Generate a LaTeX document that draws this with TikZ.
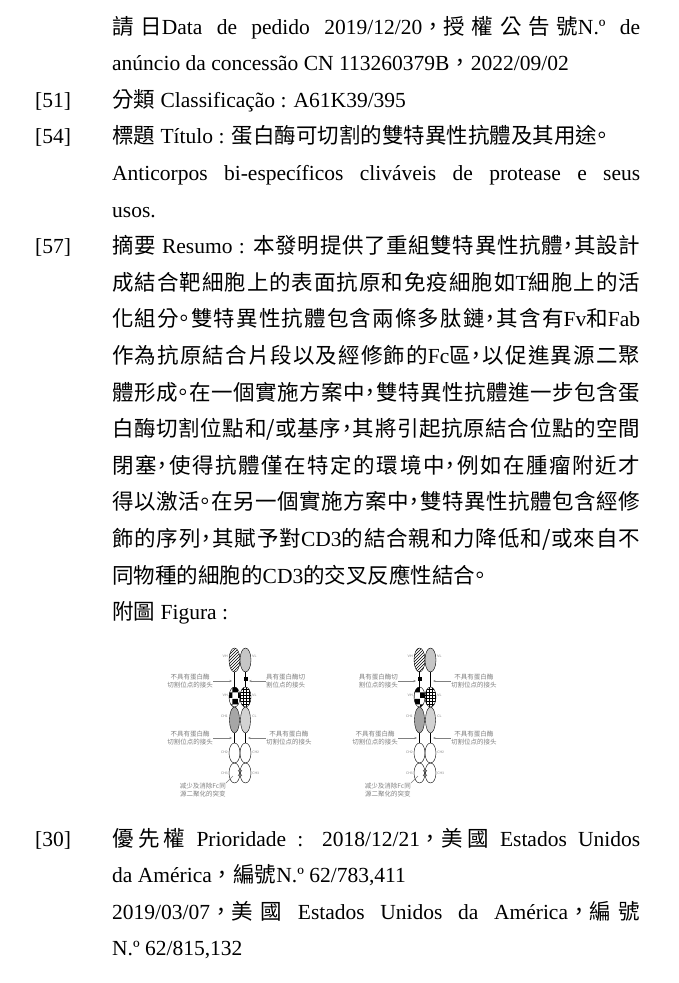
\documentclass[tikz,border=0pt]{standalone}
\usepackage{fontspec}
\setmainfont{Liberation Serif}
\newfontfamily\zhfont[RawFeature=+halt]{Noto Sans CJK TC}
\newfontfamily\zhwide{Noto Sans CJK TC}
\newfontfamily\figzh{Noto Sans CJK SC}
\usetikzlibrary{shapes.geometric,arrows.meta,patterns}
\XeTeXlinebreaklocale "zh"
\XeTeXlinebreakskip=0pt plus 2pt
\tolerance=9999
\hbadness=10000
\newcommand\Z[1]{{\zhfont #1}}
\newcommand\W[1]{{\zhwide #1}}
\tikzset{
  body/.style={anchor=base west, text width=528pt, align=justify, inner sep=0pt,
    font=\fontsize{21.5}{36.6}\selectfont},
  tag/.style={anchor=base west, inner sep=0pt, font=\fontsize{21.5}{36.6}\selectfont},
  dom/.style={ellipse, draw, line width=.4pt, minimum width=11pt, minimum height=24pt, inner sep=0pt},
  lab/.style={inner sep=0pt, align=center, text=gray, font=\figzh\fontsize{6.5}{8}\selectfont},
  sm/.style={inner sep=0pt, text=gray, font=\sffamily\fontsize{3.5}{4}\selectfont},
  arr/.style={-{Stealth[length=2.5pt,width=2pt]}, gray, line width=.4pt},
}
\begin{document}
\begin{tikzpicture}[x=1pt, y=-1pt]
  \fill[white] (0,0) rectangle (678,983);
  \useasboundingbox (0,0) rectangle (678,983);

  % text of the record
  \node[body] (date) at (112,34) {\Z{請日}Data de pedido 2019/12/20\W{，}\Z{授權公告號}N.º de\linebreak
    anúncio da concessão CN 113260379B\W{，}2022/09/02};
  \node[tag] (n51) at (35,107.2) {[51]};
  \node[body] (cls) at (112,107.2) {\Z{分類} Classificação : A61K39/395};
  \node[tag] (n54) at (35,143.8) {[54]};
  \node[body] (title) at (112,143.8) {\Z{標題} Título : \Z{蛋白酶可切割的雙特異性抗體及其用途。}\par
    Anticorpos bi-específicos cliváveis de protease e seus\linebreak usos.};
  \node[tag] (n57) at (35,253.6) {[57]};
  \node[body] (abs) at (112,253.6) {\Z{摘要} Resumo : \Z{本發明提供了重組雙特異性抗體，其設計}\linebreak
    \Z{成結合靶細胞上的表面抗原和免疫細胞如}T\Z{細胞上的活}\linebreak
    \Z{化組分。雙特異性抗體包含兩條多肽鏈，其含有}Fv\Z{和}Fab\linebreak
    \Z{作為抗原結合片段以及經修飾的}Fc\Z{區，以促進異源二聚}\linebreak
    \Z{體形成。在一個實施方案中，雙特異性抗體進一步包含蛋}\linebreak
    \Z{白酶切割位點和/或基序，其將引起抗原結合位點的空間}\linebreak
    \Z{閉塞，使得抗體僅在特定的環境中，例如在腫瘤附近才}\linebreak
    \Z{得以激活。在另一個實施方案中，雙特異性抗體包含經修}\linebreak
    \Z{飾的序列，其賦予對}CD3\Z{的結合親和力降低和/或來自不}\linebreak
    \Z{同物種的細胞的}CD3\Z{的交叉反應性結合。}};
  \node[body] (figcap) at (112,619.6) {\Z{附圖} Figura :};
  \node[tag] (n30) at (35,846) {[30]};
  \node[body] (prio) at (112,846) {\Z{優先權} Prioridade : 2018/12/21\W{，}\Z{美國} Estados Unidos\linebreak
    da América\W{，}\Z{編號}N.º 62/783,411\par
    2019/03/07\W{，}\Z{美國} Estados Unidos da América\W{，}\Z{編號}\linebreak
    N.º 62/815,132};

  % left antibody
  \begin{scope}[shift={(240,0)}]
    \node[dom, pattern=north east lines] (aVH) at (-5.5,660) {};
    \node[dom, fill=gray!45] (aVL) at (5.5,660) {};
    \node[fill=black, minimum size=4pt, inner sep=0pt] (aK) at (5.5,679) {};
    \node[dom, minimum height=20pt, pattern=checkerboard] (aVHb) at (-5.5,697) {};
    \node[dom, minimum height=20pt, pattern=grid] (aVLb) at (5.5,697) {};
    \node[dom, minimum height=26pt, minimum width=10pt, fill=gray!70] (aCH1) at (-5.5,720) {};
    \node[dom, minimum height=26pt, minimum width=10pt, fill=gray!35] (aCL) at (5.5,720) {};
    \node[dom, minimum height=20pt] (aCH2a) at (-5.5,753) {};
    \node[dom, minimum height=20pt] (aCH2b) at (5.5,753) {};
    \node[dom, minimum height=20pt] (aCH3a) at (-5.5,773) {};
    \node[dom, minimum height=20pt] (aCH3b) at (5.5,773) {};
    \draw (aVH.south) -- (aVHb.north);
    \draw (aVL.south) -- (aK) -- (aVLb.north);
    \draw (aCH1.south) -- (aCH2a.north);
    \draw (aCL.south) -- (aCH2b.north);
    \draw (-2,770) -- (2,776) (-2,776) -- (2,770);
    \node[sm, anchor=east] at (-12,656) {VH};
    \node[sm, anchor=west] at (12,656) {VL};
    \node[sm, anchor=east] at (-12,695) {VH};
    \node[sm, anchor=west] at (12,695) {VL};
    \node[sm, anchor=east] at (-12,716) {CH1};
    \node[sm, anchor=west] at (12,716) {CL};
    \node[sm, anchor=east] at (-12,752) {CH2};
    \node[sm, anchor=west] at (12,752) {CH2};
    \node[sm, anchor=east] at (-12,773) {CH3};
    \node[sm, anchor=west] at (12,773) {CH3};
    \node[lab, anchor=east] (aT1) at (-27,681) {不具有蛋白酶\\切割位点的接头};
    \node[lab, anchor=west] (aT2) at (26,681) {具有蛋白酶切\\割位点的接头};
    \node[lab, anchor=east] (aT3) at (-27,738) {不具有蛋白酶\\切割位点的接头};
    \node[lab, anchor=west] (aT4) at (26,738) {不具有蛋白酶\\切割位点的接头};
    \node[lab, anchor=north east] (aT5) at (-14,783) {减少及消除Fc同\\源二聚化的突变};
    \coordinate (aP1) at (-8,681);
    \coordinate (aP2) at (9,681);
    \coordinate (aP3) at (-8,738);
    \coordinate (aP4) at (8,738);
    \coordinate (aP5) at (-7,776);
    \draw[arr] (aT1) -- (aP1);
    \draw[arr] (aT2) -- (aP2);
    \draw[arr] (aT3) -- (aP3);
    \draw[arr] (aT4) -- (aP4);
    \draw[gray, line width=.4pt] (aT5.north east) -- (aP5);
  \end{scope}

  % right antibody
  \begin{scope}[shift={(425,0)}]
    \node[dom, pattern=north east lines] (bVH) at (-5.5,660) {};
    \node[dom, fill=gray!45] (bVL) at (5.5,660) {};
    \node[fill=black, minimum size=4pt, inner sep=0pt] (bK) at (-5.5,679) {};
    \node[dom, minimum height=20pt, pattern=checkerboard] (bVHb) at (-5.5,697) {};
    \node[dom, minimum height=20pt, pattern=grid] (bVLb) at (5.5,697) {};
    \node[dom, minimum height=26pt, minimum width=10pt, fill=gray!70] (bCH1) at (-5.5,720) {};
    \node[dom, minimum height=26pt, minimum width=10pt, fill=gray!35] (bCL) at (5.5,720) {};
    \node[dom, minimum height=20pt] (bCH2a) at (-5.5,753) {};
    \node[dom, minimum height=20pt] (bCH2b) at (5.5,753) {};
    \node[dom, minimum height=20pt] (bCH3a) at (-5.5,773) {};
    \node[dom, minimum height=20pt] (bCH3b) at (5.5,773) {};
    \draw (bVH.south) -- (bK) -- (bVHb.north);
    \draw (bVL.south) -- (bVLb.north);
    \draw (bCH1.south) -- (bCH2a.north);
    \draw (bCL.south) -- (bCH2b.north);
    \draw (-2,770) -- (2,776) (-2,776) -- (2,770);
    \node[sm, anchor=east] at (-12,656) {VH};
    \node[sm, anchor=west] at (12,656) {VL};
    \node[sm, anchor=east] at (-12,695) {VH};
    \node[sm, anchor=west] at (12,695) {VL};
    \node[sm, anchor=east] at (-12,716) {CH1};
    \node[sm, anchor=west] at (12,716) {CL};
    \node[sm, anchor=east] at (-12,752) {CH2};
    \node[sm, anchor=west] at (12,752) {CH2};
    \node[sm, anchor=east] at (-12,773) {CH3};
    \node[sm, anchor=west] at (12,773) {CH3};
    \node[lab, anchor=east] (bT1) at (-27,681) {具有蛋白酶切\\割位点的接头};
    \node[lab, anchor=west] (bT2) at (26,681) {不具有蛋白酶\\切割位点的接头};
    \node[lab, anchor=east] (bT3) at (-27,738) {不具有蛋白酶\\切割位点的接头};
    \node[lab, anchor=west] (bT4) at (26,738) {不具有蛋白酶\\切割位点的接头};
    \node[lab, anchor=north east] (bT5) at (-14,783) {减少及消除Fc同\\源二聚化的突变};
    \coordinate (bP1) at (-9,681);
    \coordinate (bP2) at (8,681);
    \coordinate (bP3) at (-8,738);
    \coordinate (bP4) at (8,738);
    \coordinate (bP5) at (-7,776);
    \draw[arr] (bT1) -- (bP1);
    \draw[arr] (bT2) -- (bP2);
    \draw[arr] (bT3) -- (bP3);
    \draw[arr] (bT4) -- (bP4);
    \draw[gray, line width=.4pt] (bT5.north east) -- (bP5);
  \end{scope}
\end{tikzpicture}
\end{document}
